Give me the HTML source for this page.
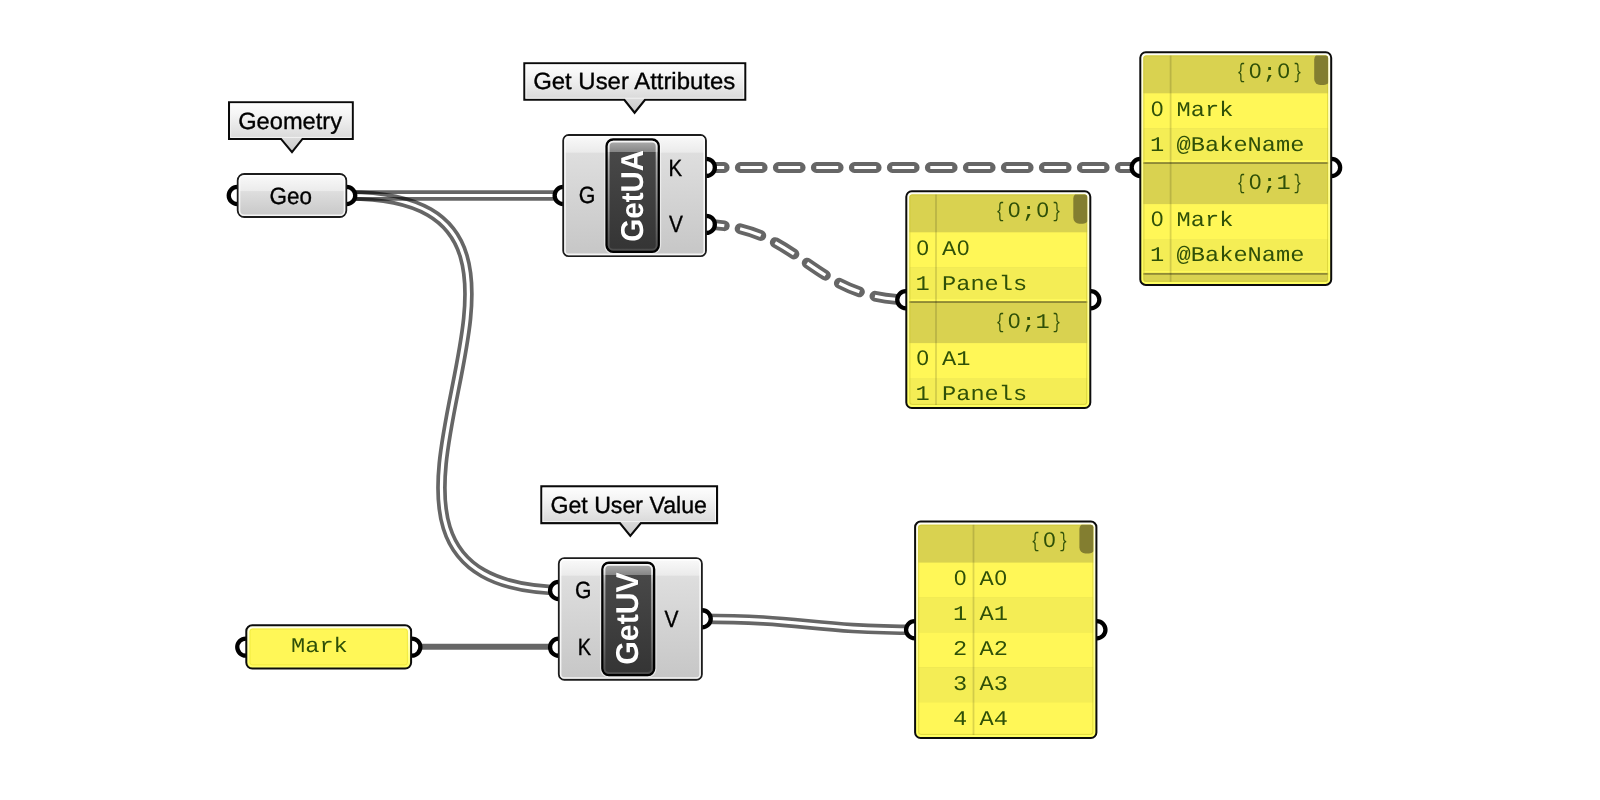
<!DOCTYPE html>
<html><head><meta charset="utf-8"><title>Grasshopper</title>
<style>
html,body{margin:0;padding:0;background:#fff;}
body{width:1600px;height:800px;overflow:hidden;font-family:"Liberation Sans",sans-serif;}
svg{display:block;will-change:transform;}
text{text-rendering:geometricPrecision;}
</style></head><body>
<svg width="1600" height="800" viewBox="0 0 1600 800">
<defs>
<linearGradient id="gLabel" x1="0" y1="0" x2="0" y2="1"><stop offset="0" stop-color="#fefefe"/><stop offset="0.35" stop-color="#f4f4f4"/><stop offset="1" stop-color="#d6d6d6"/></linearGradient>
<linearGradient id="gCapDark" x1="0" y1="0" x2="0" y2="1"><stop offset="0" stop-color="#454545"/><stop offset="1" stop-color="#343434"/></linearGradient>
<linearGradient id="gCapTop" x1="0" y1="0" x2="0" y2="1"><stop offset="0" stop-color="#b4b4b4"/><stop offset="1" stop-color="#858585"/></linearGradient>
<linearGradient id="gCapHi" x1="0" y1="0" x2="0" y2="1"><stop offset="0" stop-color="#ffffff" stop-opacity="0.95"/><stop offset="0.25" stop-color="#ffffff" stop-opacity="0.5"/><stop offset="1" stop-color="#ffffff" stop-opacity="0.12"/></linearGradient>
<mask id="wm1" maskUnits="userSpaceOnUse" x="0" y="0" width="1600" height="800"><path d="M347,195.5 H566" fill="none" stroke="#fff" stroke-width="10.6"/><path d="M347,195.5 H566" fill="none" stroke="#000" stroke-width="3.2"/></mask>
<mask id="wm2" maskUnits="userSpaceOnUse" x="0" y="0" width="1600" height="800"><path d="M348.4,195.5 C642.3,195.5 263.9,590.5 568.6,590.5" fill="none" stroke="#fff" stroke-width="10.6"/><path d="M348.4,195.5 C642.3,195.5 263.9,590.5 568.6,590.5" fill="none" stroke="#000" stroke-width="3.2"/></mask>
<mask id="wm3" maskUnits="userSpaceOnUse" x="0" y="0" width="1600" height="800"><path d="M702.3,167.5 H1145" fill="none" stroke="#fff" stroke-width="10.8" stroke-dasharray="21.9 16.1" stroke-linecap="round"/><path d="M702.3,167.5 H1145" fill="none" stroke="#000" stroke-width="3.2" stroke-dasharray="21.9 16.1"/></mask>
<mask id="wm4" maskUnits="userSpaceOnUse" x="0" y="0" width="1600" height="800"><path d="M702.3,224.4 C801,224.4 810,299.9 911,299.9" fill="none" stroke="#fff" stroke-width="10.8" stroke-dasharray="21.9 16.1" stroke-linecap="round"/><path d="M702.3,224.4 C801,224.4 810,299.9 911,299.9" fill="none" stroke="#000" stroke-width="3.2" stroke-dasharray="21.9 16.1"/></mask>
<mask id="wm5" maskUnits="userSpaceOnUse" x="0" y="0" width="1600" height="800"><path d="M700,618.7 C806,618.7 810,629.8 918,629.8" fill="none" stroke="#fff" stroke-width="10.6"/><path d="M700,618.7 C806,618.7 810,629.8 918,629.8" fill="none" stroke="#000" stroke-width="3.2"/></mask>
<linearGradient id="gb1" gradientUnits="userSpaceOnUse" x1="0" y1="173" x2="0" y2="218"><stop offset="0" stop-color="#fbfbfb"/><stop offset="0.4000" stop-color="#ebebeb"/><stop offset="0.4120" stop-color="#dedede"/><stop offset="1" stop-color="#c6c6c6"/></linearGradient>
<linearGradient id="gl2" gradientUnits="userSpaceOnUse" x1="0" y1="101.2" x2="0" y2="153.5"><stop offset="0" stop-color="#ffffff"/><stop offset="0.25" stop-color="#f5f5f5"/><stop offset="0.75" stop-color="#d7d7d7"/><stop offset="1" stop-color="#c8c8c8"/></linearGradient>
<linearGradient id="gl3" gradientUnits="userSpaceOnUse" x1="0" y1="62.2" x2="0" y2="114"><stop offset="0" stop-color="#ffffff"/><stop offset="0.25" stop-color="#f5f5f5"/><stop offset="0.75" stop-color="#d7d7d7"/><stop offset="1" stop-color="#c8c8c8"/></linearGradient>
<linearGradient id="gl4" gradientUnits="userSpaceOnUse" x1="0" y1="485.3" x2="0" y2="537.2"><stop offset="0" stop-color="#ffffff"/><stop offset="0.25" stop-color="#f5f5f5"/><stop offset="0.75" stop-color="#d7d7d7"/><stop offset="1" stop-color="#c8c8c8"/></linearGradient>
<linearGradient id="gb5" gradientUnits="userSpaceOnUse" x1="0" y1="134" x2="0" y2="257.1"><stop offset="0" stop-color="#fbfbfb"/><stop offset="0.1462" stop-color="#ebebeb"/><stop offset="0.1582" stop-color="#dedede"/><stop offset="1" stop-color="#c6c6c6"/></linearGradient>
<clipPath id="cc605_138"><rect x="607.8" y="140.70000000000002" width="49.7" height="109.89999999999999" rx="5.3"/></clipPath>
<linearGradient id="cg605_138" gradientUnits="userSpaceOnUse" x1="0" y1="152" x2="0" y2="253"><stop offset="0" stop-color="#484848"/><stop offset="1" stop-color="#343434"/></linearGradient>
<linearGradient id="ct605_138" gradientUnits="userSpaceOnUse" x1="0" y1="138.3" x2="0" y2="152"><stop offset="0" stop-color="#b8b8b8"/><stop offset="1" stop-color="#858585"/></linearGradient>
<linearGradient id="ch605_138" gradientUnits="userSpaceOnUse" x1="0" y1="138.3" x2="0" y2="253"><stop offset="0" stop-color="#fff" stop-opacity="0.95"/><stop offset="0.2" stop-color="#fff" stop-opacity="0.55"/><stop offset="1" stop-color="#fff" stop-opacity="0.1"/></linearGradient>
<linearGradient id="gb6" gradientUnits="userSpaceOnUse" x1="0" y1="557.2" x2="0" y2="680.7"><stop offset="0" stop-color="#fbfbfb"/><stop offset="0.1441" stop-color="#ebebeb"/><stop offset="0.1561" stop-color="#dedede"/><stop offset="1" stop-color="#c6c6c6"/></linearGradient>
<clipPath id="cc601_561"><rect x="603.6" y="563.9" width="49.29999999999991" height="109.99999999999996" rx="5.3"/></clipPath>
<linearGradient id="cg601_561" gradientUnits="userSpaceOnUse" x1="0" y1="575" x2="0" y2="676.3"><stop offset="0" stop-color="#484848"/><stop offset="1" stop-color="#343434"/></linearGradient>
<linearGradient id="ct601_561" gradientUnits="userSpaceOnUse" x1="0" y1="561.5" x2="0" y2="575"><stop offset="0" stop-color="#b8b8b8"/><stop offset="1" stop-color="#858585"/></linearGradient>
<linearGradient id="ch601_561" gradientUnits="userSpaceOnUse" x1="0" y1="561.5" x2="0" y2="676.3"><stop offset="0" stop-color="#fff" stop-opacity="0.95"/><stop offset="0.2" stop-color="#fff" stop-opacity="0.55"/><stop offset="1" stop-color="#fff" stop-opacity="0.1"/></linearGradient>
<linearGradient id="markhg" x1="0" y1="0" x2="0" y2="1"><stop offset="0" stop-color="#fffff0"/><stop offset="0.5" stop-color="#ffffa8"/><stop offset="1" stop-color="#ffff60"/></linearGradient>
<clipPath id="pc1139_51"><rect x="1143.3999999999999" y="55.4" width="184.70000000000027" height="226.39999999999995" rx="2.6"/></clipPath>
<linearGradient id="ph1139_51" gradientUnits="userSpaceOnUse" x1="0" y1="51.3" x2="0" y2="261.3"><stop offset="0" stop-color="#fffff6"/><stop offset="0.3" stop-color="#ffffc4"/><stop offset="1" stop-color="#ffff62"/></linearGradient>
<clipPath id="pc905_190"><rect x="909.4" y="194.4" width="177.80000000000007" height="210.49999999999997" rx="2.6"/></clipPath>
<linearGradient id="ph905_190" gradientUnits="userSpaceOnUse" x1="0" y1="190.3" x2="0" y2="400.3"><stop offset="0" stop-color="#fffff6"/><stop offset="0.3" stop-color="#ffffc4"/><stop offset="1" stop-color="#ffff62"/></linearGradient>
<clipPath id="pc914_520"><rect x="918.2" y="524.7" width="175.10000000000014" height="210.19999999999993" rx="2.6"/></clipPath>
<linearGradient id="ph914_520" gradientUnits="userSpaceOnUse" x1="0" y1="520.6" x2="0" y2="730.6"><stop offset="0" stop-color="#fffff6"/><stop offset="0.3" stop-color="#ffffc4"/><stop offset="1" stop-color="#ffff62"/></linearGradient>
</defs>
<rect width="1600" height="800" fill="#fff"/>
<rect x="0" y="0" width="1600" height="800" fill="rgba(0,0,0,0.6)" mask="url(#wm1)"/>
<rect x="0" y="0" width="1600" height="800" fill="rgba(0,0,0,0.6)" mask="url(#wm2)"/>
<rect x="0" y="0" width="1600" height="800" fill="rgba(0,0,0,0.6)" mask="url(#wm3)"/>
<rect x="0" y="0" width="1600" height="800" fill="rgba(0,0,0,0.6)" mask="url(#wm4)"/>
<path d="M412,646.7 H560" fill="none" stroke="rgba(0,0,0,0.6)" stroke-width="6"/>
<rect x="0" y="0" width="1600" height="800" fill="rgba(0,0,0,0.6)" mask="url(#wm5)"/>
<circle cx="237.3" cy="195.5" r="8.55" fill="#fff" stroke="#000" stroke-width="4.3"/>
<circle cx="346.7" cy="195.5" r="8.55" fill="#fff" stroke="#000" stroke-width="4.3"/>
<circle cx="563.2" cy="195.5" r="8.55" fill="#fff" stroke="#000" stroke-width="4.3"/>
<circle cx="706.3" cy="167.4" r="8.55" fill="#fff" stroke="#000" stroke-width="4.3"/>
<circle cx="706.3" cy="224.4" r="8.55" fill="#fff" stroke="#000" stroke-width="4.3"/>
<circle cx="558.6" cy="590.5" r="8.55" fill="#fff" stroke="#000" stroke-width="4.3"/>
<circle cx="558.6" cy="647.2" r="8.55" fill="#fff" stroke="#000" stroke-width="4.3"/>
<circle cx="702.2" cy="618.8" r="8.55" fill="#fff" stroke="#000" stroke-width="4.3"/>
<circle cx="245.8" cy="647.1" r="8.55" fill="#fff" stroke="#000" stroke-width="4.3"/>
<circle cx="411.8" cy="647.1" r="8.55" fill="#fff" stroke="#000" stroke-width="4.3"/>
<circle cx="1140.2" cy="167.5" r="8.55" fill="#fff" stroke="#000" stroke-width="4.3"/>
<circle cx="1331.6" cy="167.5" r="8.55" fill="#fff" stroke="#000" stroke-width="4.3"/>
<circle cx="905.8" cy="299.75" r="8.55" fill="#fff" stroke="#000" stroke-width="4.3"/>
<circle cx="1090.8" cy="299.75" r="8.55" fill="#fff" stroke="#000" stroke-width="4.3"/>
<circle cx="914.6" cy="629.75" r="8.55" fill="#fff" stroke="#000" stroke-width="4.3"/>
<circle cx="1096.9" cy="629.75" r="8.55" fill="#fff" stroke="#000" stroke-width="4.3"/>
<rect x="237.75" y="173.95" width="108.49999999999997" height="43.1" rx="6.5" fill="url(#gb1)" stroke="#1c1c1c" stroke-width="1.9"/>
<rect x="239.50000000000003" y="175.70000000000002" width="104.99999999999999" height="39.6" rx="4.5" fill="none" stroke="#fff" stroke-opacity="0.8" stroke-width="1.6"/>
<text x="269.6" y="203.6" font-family="Liberation Sans, sans-serif" font-size="23.5" font-weight="normal" fill="#000" stroke="#000" stroke-width="0.35" textLength="42.40" lengthAdjust="spacingAndGlyphs">Geo</text>
<path d="M229.05,102.25 H352.75 V138.95 H302.5 L292,152.2 L281,138.95 H229.05 Z" fill="url(#gl2)" stroke="#0a0a0a" stroke-width="2.1" stroke-linejoin="miter"/>
<rect x="230.6" y="103.8" width="120.60000000000001" height="33.599999999999994" fill="none" stroke="#fff" stroke-opacity="0.7" stroke-width="1"/>
<text x="238.2" y="128.8" font-family="Liberation Sans, sans-serif" font-size="23.5" font-weight="normal" fill="#000" stroke="#000" stroke-width="0.35" textLength="103.80" lengthAdjust="spacingAndGlyphs">Geometry</text>
<path d="M524.3499999999999,63.25 H745.25 V99.75 H645 L634.6,112.7 L624.3,99.75 H524.3499999999999 Z" fill="url(#gl3)" stroke="#0a0a0a" stroke-width="2.1" stroke-linejoin="miter"/>
<rect x="525.9" y="64.8" width="217.8" height="33.39999999999999" fill="none" stroke="#fff" stroke-opacity="0.7" stroke-width="1"/>
<text x="533.2" y="89" font-family="Liberation Sans, sans-serif" font-size="23.5" font-weight="normal" fill="#000" stroke="#000" stroke-width="0.35" textLength="202.00" lengthAdjust="spacingAndGlyphs">Get User Attributes</text>
<path d="M541.3499999999999,486.35 H717.0500000000001 V523.1500000000001 H640.9 L630.3,535.9000000000001 L619.9,523.1500000000001 H541.3499999999999 Z" fill="url(#gl4)" stroke="#0a0a0a" stroke-width="2.1" stroke-linejoin="miter"/>
<rect x="542.9" y="487.90000000000003" width="172.60000000000008" height="33.70000000000003" fill="none" stroke="#fff" stroke-opacity="0.7" stroke-width="1"/>
<text x="550.4" y="512.5" font-family="Liberation Sans, sans-serif" font-size="23.5" font-weight="normal" fill="#000" stroke="#000" stroke-width="0.35" textLength="156.60" lengthAdjust="spacingAndGlyphs">Get User Value</text>
<rect x="563.25" y="134.95" width="142.70000000000002" height="121.20000000000002" rx="5.5" fill="url(#gb5)" stroke="#1c1c1c" stroke-width="1.9"/>
<rect x="564.9999999999999" y="136.70000000000002" width="139.20000000000002" height="117.70000000000003" rx="3.5" fill="none" stroke="#fff" stroke-opacity="0.8" stroke-width="1.6"/>
<rect x="604.8" y="137.70000000000002" width="55.7" height="115.89999999999999" rx="8.3" fill="none" stroke="#fff" stroke-opacity="0.55" stroke-width="1.3"/>
<rect x="606.6" y="139.5" width="52.1" height="112.29999999999998" rx="6.5" fill="#3d3d3d" stroke="#000" stroke-width="2.4"/>
<g clip-path="url(#cc605_138)"><rect x="605.4" y="152" width="54.5" height="101" fill="url(#cg605_138)"/><rect x="605.4" y="138.3" width="54.5" height="13.699999999999989" fill="url(#ct605_138)"/></g>
<rect x="608.6999999999999" y="141.60000000000002" width="47.900000000000006" height="108.1" rx="4.5" fill="none" stroke="url(#ch605_138)" stroke-width="1.8"/>
<text transform="translate(643.1,241.7) rotate(-90)" x="0" y="0" font-family="Liberation Sans, sans-serif" font-weight="bold" font-size="31.6" fill="#fff" textLength="91.89999999999998" lengthAdjust="spacingAndGlyphs" stroke="#000" stroke-opacity="0.25" stroke-width="0.6" paint-order="stroke">GetUA</text>
<text x="578.8" y="203.2" font-family="Liberation Sans, sans-serif" font-size="23.5" font-weight="normal" fill="#000" stroke="#000" stroke-width="0.35" textLength="16.60" lengthAdjust="spacingAndGlyphs">G</text>
<text x="668.4" y="175.7" font-family="Liberation Sans, sans-serif" font-size="23.5" font-weight="normal" fill="#000" stroke="#000" stroke-width="0.35" textLength="13.60" lengthAdjust="spacingAndGlyphs">K</text>
<text x="669" y="232" font-family="Liberation Sans, sans-serif" font-size="23.5" font-weight="normal" fill="#000" stroke="#000" stroke-width="0.35" textLength="13.90" lengthAdjust="spacingAndGlyphs">V</text>
<rect x="558.85" y="558.1500000000001" width="142.99999999999997" height="121.6" rx="5.5" fill="url(#gb6)" stroke="#1c1c1c" stroke-width="1.9"/>
<rect x="560.5999999999999" y="559.9" width="139.49999999999997" height="118.10000000000001" rx="3.5" fill="none" stroke="#fff" stroke-opacity="0.8" stroke-width="1.6"/>
<rect x="600.6" y="560.9" width="55.29999999999991" height="115.99999999999996" rx="8.3" fill="none" stroke="#fff" stroke-opacity="0.55" stroke-width="1.3"/>
<rect x="602.4000000000001" y="562.7" width="51.69999999999991" height="112.39999999999995" rx="6.5" fill="#3d3d3d" stroke="#000" stroke-width="2.4"/>
<g clip-path="url(#cc601_561)"><rect x="601.2" y="575" width="54.09999999999991" height="101.29999999999995" fill="url(#cg601_561)"/><rect x="601.2" y="561.5" width="54.09999999999991" height="13.5" fill="url(#ct601_561)"/></g>
<rect x="604.5" y="564.8" width="47.499999999999915" height="108.19999999999996" rx="4.5" fill="none" stroke="url(#ch601_561)" stroke-width="1.8"/>
<text transform="translate(638.4,664.7) rotate(-90)" x="0" y="0" font-family="Liberation Sans, sans-serif" font-weight="bold" font-size="31.6" fill="#fff" textLength="92.5" lengthAdjust="spacingAndGlyphs" stroke="#000" stroke-opacity="0.25" stroke-width="0.6" paint-order="stroke">GetUV</text>
<text x="574.9" y="598.3" font-family="Liberation Sans, sans-serif" font-size="23.5" font-weight="normal" fill="#000" stroke="#000" stroke-width="0.35" textLength="16.40" lengthAdjust="spacingAndGlyphs">G</text>
<text x="577.8" y="655.2" font-family="Liberation Sans, sans-serif" font-size="23.5" font-weight="normal" fill="#000" stroke="#000" stroke-width="0.35" textLength="13.30" lengthAdjust="spacingAndGlyphs">K</text>
<text x="664.4" y="627" font-family="Liberation Sans, sans-serif" font-size="23.5" font-weight="normal" fill="#000" stroke="#000" stroke-width="0.35" textLength="14.00" lengthAdjust="spacingAndGlyphs">V</text>
<rect x="246.3" y="625.3" width="164.8" height="43.30000000000007" rx="6" fill="url(#markhg)" stroke="#0c0c0c" stroke-width="2"/>
<rect x="249.5" y="628.5" width="158.4" height="36.90000000000007" rx="3" fill="#fff757"/>
<rect x="250.0" y="629.0" width="157.4" height="35.90000000000007" rx="2.6" fill="none" stroke="#e6df2a" stroke-opacity="0.5" stroke-width="1"/>
<text transform="translate(298.10,652.30) scale(1.1270,1)" x="0" y="0" text-anchor="middle" font-family="Liberation Mono, monospace" font-size="21" fill="#2f5008">M</text>
<text transform="translate(312.30,652.30) scale(1.1270,1)" x="0" y="0" text-anchor="middle" font-family="Liberation Mono, monospace" font-size="21" fill="#2f5008">a</text>
<text transform="translate(326.50,652.30) scale(1.1270,1)" x="0" y="0" text-anchor="middle" font-family="Liberation Mono, monospace" font-size="21" fill="#2f5008">r</text>
<text transform="translate(340.70,652.30) scale(1.1270,1)" x="0" y="0" text-anchor="middle" font-family="Liberation Mono, monospace" font-size="21" fill="#2f5008">k</text>
<rect x="1140.3" y="52.3" width="190.9000000000001" height="232.59999999999997" rx="5.5" fill="url(#ph1139_51)" stroke="#0c0c0c" stroke-width="2.0"/>
<g clip-path="url(#pc1139_51)"><rect x="1139.3" y="51.3" width="192.9000000000001" height="234.59999999999997" fill="#d9d250"/><rect x="1139.3" y="52.30" width="192.9000000000001" height="41" fill="#d9d250"/><rect x="1139.3" y="93.30" width="192.9000000000001" height="35" fill="#fff757"/><rect x="1139.3" y="128.20" width="192.9000000000001" height="35" fill="#f4ed55"/><rect x="1139.3" y="163.10" width="192.9000000000001" height="41" fill="#d9d250"/><rect x="1139.3" y="204.10" width="192.9000000000001" height="35" fill="#fff757"/><rect x="1139.3" y="239.00" width="192.9000000000001" height="35" fill="#f4ed55"/><rect x="1139.3" y="273.90" width="192.9000000000001" height="12.00" fill="#d9d250"/><rect x="1139.3" y="160.20" width="192.9000000000001" height="2" fill="#fff95c"/><rect x="1139.3" y="162.10" width="192.9000000000001" height="1.9" fill="#8f8a36"/><rect x="1139.3" y="271.00" width="192.9000000000001" height="2" fill="#fff95c"/><rect x="1139.3" y="272.90" width="192.9000000000001" height="1.9" fill="#8f8a36"/><rect x="1143.8999999999999" y="55.9" width="183.70000000000027" height="225.39999999999995" rx="2.4" fill="none" stroke="#c9c22a" stroke-opacity="0.55" stroke-width="1"/><rect x="1169.6999999999998" y="51.3" width="1.8" height="234.59999999999997" fill="#000" fill-opacity="0.14"/><rect x="1314.2" y="53.6" width="15.6" height="31.30" rx="6" fill="#837e30"/></g>
<text transform="translate(1241.10,77.80) scale(0.6800,1)" x="0" y="0" text-anchor="middle" font-family="Liberation Mono, monospace" font-size="21" fill="#2f5008">{</text>
<text transform="translate(1255.30,77.80) scale(1.0600,1)" x="0" y="0" text-anchor="middle" font-family="Liberation Sans, monospace" font-size="21.0" fill="#2f5008">0</text>
<text transform="translate(1269.50,77.80) scale(1.1270,1)" x="0" y="0" text-anchor="middle" font-family="Liberation Mono, monospace" font-size="21" fill="#2f5008">;</text>
<text transform="translate(1283.70,77.80) scale(1.0600,1)" x="0" y="0" text-anchor="middle" font-family="Liberation Sans, monospace" font-size="21.0" fill="#2f5008">0</text>
<text transform="translate(1297.90,77.80) scale(0.6800,1)" x="0" y="0" text-anchor="middle" font-family="Liberation Mono, monospace" font-size="21" fill="#2f5008">}</text>
<text transform="translate(1157.20,115.65) scale(1.0600,1)" x="0" y="0" text-anchor="middle" font-family="Liberation Sans, monospace" font-size="21.0" fill="#2f5008">0</text>
<text transform="translate(1183.70,115.65) scale(1.1270,1)" x="0" y="0" text-anchor="middle" font-family="Liberation Mono, monospace" font-size="21" fill="#2f5008">M</text>
<text transform="translate(1197.90,115.65) scale(1.1270,1)" x="0" y="0" text-anchor="middle" font-family="Liberation Mono, monospace" font-size="21" fill="#2f5008">a</text>
<text transform="translate(1212.10,115.65) scale(1.1270,1)" x="0" y="0" text-anchor="middle" font-family="Liberation Mono, monospace" font-size="21" fill="#2f5008">r</text>
<text transform="translate(1226.30,115.65) scale(1.1270,1)" x="0" y="0" text-anchor="middle" font-family="Liberation Mono, monospace" font-size="21" fill="#2f5008">k</text>
<text transform="translate(1157.20,150.55) scale(1.1270,1)" x="0" y="0" text-anchor="middle" font-family="Liberation Mono, monospace" font-size="21" fill="#2f5008">1</text>
<text transform="translate(1183.70,150.55) scale(1.1270,1)" x="0" y="0" text-anchor="middle" font-family="Liberation Mono, monospace" font-size="21" fill="#2f5008">@</text>
<text transform="translate(1197.90,150.55) scale(1.1270,1)" x="0" y="0" text-anchor="middle" font-family="Liberation Mono, monospace" font-size="21" fill="#2f5008">B</text>
<text transform="translate(1212.10,150.55) scale(1.1270,1)" x="0" y="0" text-anchor="middle" font-family="Liberation Mono, monospace" font-size="21" fill="#2f5008">a</text>
<text transform="translate(1226.30,150.55) scale(1.1270,1)" x="0" y="0" text-anchor="middle" font-family="Liberation Mono, monospace" font-size="21" fill="#2f5008">k</text>
<text transform="translate(1240.50,150.55) scale(1.1270,1)" x="0" y="0" text-anchor="middle" font-family="Liberation Mono, monospace" font-size="21" fill="#2f5008">e</text>
<text transform="translate(1254.70,150.55) scale(1.1270,1)" x="0" y="0" text-anchor="middle" font-family="Liberation Mono, monospace" font-size="21" fill="#2f5008">N</text>
<text transform="translate(1268.90,150.55) scale(1.1270,1)" x="0" y="0" text-anchor="middle" font-family="Liberation Mono, monospace" font-size="21" fill="#2f5008">a</text>
<text transform="translate(1283.10,150.55) scale(1.1270,1)" x="0" y="0" text-anchor="middle" font-family="Liberation Mono, monospace" font-size="21" fill="#2f5008">m</text>
<text transform="translate(1297.30,150.55) scale(1.1270,1)" x="0" y="0" text-anchor="middle" font-family="Liberation Mono, monospace" font-size="21" fill="#2f5008">e</text>
<text transform="translate(1241.10,188.60) scale(0.6800,1)" x="0" y="0" text-anchor="middle" font-family="Liberation Mono, monospace" font-size="21" fill="#2f5008">{</text>
<text transform="translate(1255.30,188.60) scale(1.0600,1)" x="0" y="0" text-anchor="middle" font-family="Liberation Sans, monospace" font-size="21.0" fill="#2f5008">0</text>
<text transform="translate(1269.50,188.60) scale(1.1270,1)" x="0" y="0" text-anchor="middle" font-family="Liberation Mono, monospace" font-size="21" fill="#2f5008">;</text>
<text transform="translate(1283.70,188.60) scale(1.1270,1)" x="0" y="0" text-anchor="middle" font-family="Liberation Mono, monospace" font-size="21" fill="#2f5008">1</text>
<text transform="translate(1297.90,188.60) scale(0.6800,1)" x="0" y="0" text-anchor="middle" font-family="Liberation Mono, monospace" font-size="21" fill="#2f5008">}</text>
<text transform="translate(1157.20,226.45) scale(1.0600,1)" x="0" y="0" text-anchor="middle" font-family="Liberation Sans, monospace" font-size="21.0" fill="#2f5008">0</text>
<text transform="translate(1183.70,226.45) scale(1.1270,1)" x="0" y="0" text-anchor="middle" font-family="Liberation Mono, monospace" font-size="21" fill="#2f5008">M</text>
<text transform="translate(1197.90,226.45) scale(1.1270,1)" x="0" y="0" text-anchor="middle" font-family="Liberation Mono, monospace" font-size="21" fill="#2f5008">a</text>
<text transform="translate(1212.10,226.45) scale(1.1270,1)" x="0" y="0" text-anchor="middle" font-family="Liberation Mono, monospace" font-size="21" fill="#2f5008">r</text>
<text transform="translate(1226.30,226.45) scale(1.1270,1)" x="0" y="0" text-anchor="middle" font-family="Liberation Mono, monospace" font-size="21" fill="#2f5008">k</text>
<text transform="translate(1157.20,261.35) scale(1.1270,1)" x="0" y="0" text-anchor="middle" font-family="Liberation Mono, monospace" font-size="21" fill="#2f5008">1</text>
<text transform="translate(1183.70,261.35) scale(1.1270,1)" x="0" y="0" text-anchor="middle" font-family="Liberation Mono, monospace" font-size="21" fill="#2f5008">@</text>
<text transform="translate(1197.90,261.35) scale(1.1270,1)" x="0" y="0" text-anchor="middle" font-family="Liberation Mono, monospace" font-size="21" fill="#2f5008">B</text>
<text transform="translate(1212.10,261.35) scale(1.1270,1)" x="0" y="0" text-anchor="middle" font-family="Liberation Mono, monospace" font-size="21" fill="#2f5008">a</text>
<text transform="translate(1226.30,261.35) scale(1.1270,1)" x="0" y="0" text-anchor="middle" font-family="Liberation Mono, monospace" font-size="21" fill="#2f5008">k</text>
<text transform="translate(1240.50,261.35) scale(1.1270,1)" x="0" y="0" text-anchor="middle" font-family="Liberation Mono, monospace" font-size="21" fill="#2f5008">e</text>
<text transform="translate(1254.70,261.35) scale(1.1270,1)" x="0" y="0" text-anchor="middle" font-family="Liberation Mono, monospace" font-size="21" fill="#2f5008">N</text>
<text transform="translate(1268.90,261.35) scale(1.1270,1)" x="0" y="0" text-anchor="middle" font-family="Liberation Mono, monospace" font-size="21" fill="#2f5008">a</text>
<text transform="translate(1283.10,261.35) scale(1.1270,1)" x="0" y="0" text-anchor="middle" font-family="Liberation Mono, monospace" font-size="21" fill="#2f5008">m</text>
<text transform="translate(1297.30,261.35) scale(1.1270,1)" x="0" y="0" text-anchor="middle" font-family="Liberation Mono, monospace" font-size="21" fill="#2f5008">e</text>
<rect x="906.3" y="191.3" width="184.0" height="216.7" rx="5.5" fill="url(#ph905_190)" stroke="#0c0c0c" stroke-width="2.0"/>
<g clip-path="url(#pc905_190)"><rect x="905.3" y="190.3" width="186.0" height="218.7" fill="#d9d250"/><rect x="905.3" y="191.30" width="186.0" height="41" fill="#d9d250"/><rect x="905.3" y="232.30" width="186.0" height="35" fill="#fff757"/><rect x="905.3" y="267.20" width="186.0" height="35" fill="#f4ed55"/><rect x="905.3" y="302.10" width="186.0" height="41" fill="#d9d250"/><rect x="905.3" y="343.10" width="186.0" height="35" fill="#fff757"/><rect x="905.3" y="378.00" width="186.0" height="35" fill="#f4ed55"/><rect x="905.3" y="299.20" width="186.0" height="2" fill="#fff95c"/><rect x="905.3" y="301.10" width="186.0" height="1.9" fill="#8f8a36"/><rect x="909.9" y="194.9" width="176.80000000000007" height="209.49999999999997" rx="2.4" fill="none" stroke="#c9c22a" stroke-opacity="0.55" stroke-width="1"/><rect x="935.1" y="190.3" width="1.8" height="218.7" fill="#000" fill-opacity="0.14"/><rect x="1073.3" y="192.6" width="15.6" height="31.10" rx="6" fill="#837e30"/></g>
<text transform="translate(1000.10,216.80) scale(0.6800,1)" x="0" y="0" text-anchor="middle" font-family="Liberation Mono, monospace" font-size="21" fill="#2f5008">{</text>
<text transform="translate(1014.30,216.80) scale(1.0600,1)" x="0" y="0" text-anchor="middle" font-family="Liberation Sans, monospace" font-size="21.0" fill="#2f5008">0</text>
<text transform="translate(1028.50,216.80) scale(1.1270,1)" x="0" y="0" text-anchor="middle" font-family="Liberation Mono, monospace" font-size="21" fill="#2f5008">;</text>
<text transform="translate(1042.70,216.80) scale(1.0600,1)" x="0" y="0" text-anchor="middle" font-family="Liberation Sans, monospace" font-size="21.0" fill="#2f5008">0</text>
<text transform="translate(1056.90,216.80) scale(0.6800,1)" x="0" y="0" text-anchor="middle" font-family="Liberation Mono, monospace" font-size="21" fill="#2f5008">}</text>
<text transform="translate(922.60,254.65) scale(1.0600,1)" x="0" y="0" text-anchor="middle" font-family="Liberation Sans, monospace" font-size="21.0" fill="#2f5008">0</text>
<text transform="translate(949.10,254.65) scale(1.1270,1)" x="0" y="0" text-anchor="middle" font-family="Liberation Mono, monospace" font-size="21" fill="#2f5008">A</text>
<text transform="translate(963.30,254.65) scale(1.0600,1)" x="0" y="0" text-anchor="middle" font-family="Liberation Sans, monospace" font-size="21.0" fill="#2f5008">0</text>
<text transform="translate(922.60,289.55) scale(1.1270,1)" x="0" y="0" text-anchor="middle" font-family="Liberation Mono, monospace" font-size="21" fill="#2f5008">1</text>
<text transform="translate(949.10,289.55) scale(1.1270,1)" x="0" y="0" text-anchor="middle" font-family="Liberation Mono, monospace" font-size="21" fill="#2f5008">P</text>
<text transform="translate(963.30,289.55) scale(1.1270,1)" x="0" y="0" text-anchor="middle" font-family="Liberation Mono, monospace" font-size="21" fill="#2f5008">a</text>
<text transform="translate(977.50,289.55) scale(1.1270,1)" x="0" y="0" text-anchor="middle" font-family="Liberation Mono, monospace" font-size="21" fill="#2f5008">n</text>
<text transform="translate(991.70,289.55) scale(1.1270,1)" x="0" y="0" text-anchor="middle" font-family="Liberation Mono, monospace" font-size="21" fill="#2f5008">e</text>
<text transform="translate(1005.90,289.55) scale(1.1270,1)" x="0" y="0" text-anchor="middle" font-family="Liberation Mono, monospace" font-size="21" fill="#2f5008">l</text>
<text transform="translate(1020.10,289.55) scale(1.1270,1)" x="0" y="0" text-anchor="middle" font-family="Liberation Mono, monospace" font-size="21" fill="#2f5008">s</text>
<text transform="translate(1000.10,327.60) scale(0.6800,1)" x="0" y="0" text-anchor="middle" font-family="Liberation Mono, monospace" font-size="21" fill="#2f5008">{</text>
<text transform="translate(1014.30,327.60) scale(1.0600,1)" x="0" y="0" text-anchor="middle" font-family="Liberation Sans, monospace" font-size="21.0" fill="#2f5008">0</text>
<text transform="translate(1028.50,327.60) scale(1.1270,1)" x="0" y="0" text-anchor="middle" font-family="Liberation Mono, monospace" font-size="21" fill="#2f5008">;</text>
<text transform="translate(1042.70,327.60) scale(1.1270,1)" x="0" y="0" text-anchor="middle" font-family="Liberation Mono, monospace" font-size="21" fill="#2f5008">1</text>
<text transform="translate(1056.90,327.60) scale(0.6800,1)" x="0" y="0" text-anchor="middle" font-family="Liberation Mono, monospace" font-size="21" fill="#2f5008">}</text>
<text transform="translate(922.60,365.45) scale(1.0600,1)" x="0" y="0" text-anchor="middle" font-family="Liberation Sans, monospace" font-size="21.0" fill="#2f5008">0</text>
<text transform="translate(949.10,365.45) scale(1.1270,1)" x="0" y="0" text-anchor="middle" font-family="Liberation Mono, monospace" font-size="21" fill="#2f5008">A</text>
<text transform="translate(963.30,365.45) scale(1.1270,1)" x="0" y="0" text-anchor="middle" font-family="Liberation Mono, monospace" font-size="21" fill="#2f5008">1</text>
<text transform="translate(922.60,400.35) scale(1.1270,1)" x="0" y="0" text-anchor="middle" font-family="Liberation Mono, monospace" font-size="21" fill="#2f5008">1</text>
<text transform="translate(949.10,400.35) scale(1.1270,1)" x="0" y="0" text-anchor="middle" font-family="Liberation Mono, monospace" font-size="21" fill="#2f5008">P</text>
<text transform="translate(963.30,400.35) scale(1.1270,1)" x="0" y="0" text-anchor="middle" font-family="Liberation Mono, monospace" font-size="21" fill="#2f5008">a</text>
<text transform="translate(977.50,400.35) scale(1.1270,1)" x="0" y="0" text-anchor="middle" font-family="Liberation Mono, monospace" font-size="21" fill="#2f5008">n</text>
<text transform="translate(991.70,400.35) scale(1.1270,1)" x="0" y="0" text-anchor="middle" font-family="Liberation Mono, monospace" font-size="21" fill="#2f5008">e</text>
<text transform="translate(1005.90,400.35) scale(1.1270,1)" x="0" y="0" text-anchor="middle" font-family="Liberation Mono, monospace" font-size="21" fill="#2f5008">l</text>
<text transform="translate(1020.10,400.35) scale(1.1270,1)" x="0" y="0" text-anchor="middle" font-family="Liberation Mono, monospace" font-size="21" fill="#2f5008">s</text>
<rect x="915.1" y="521.6" width="181.30000000000007" height="216.39999999999998" rx="5.5" fill="url(#ph914_520)" stroke="#0c0c0c" stroke-width="2.0"/>
<g clip-path="url(#pc914_520)"><rect x="914.1" y="520.6" width="183.30000000000007" height="218.39999999999998" fill="#d9d250"/><rect x="914.1" y="521.60" width="183.30000000000007" height="41" fill="#d9d250"/><rect x="914.1" y="562.60" width="183.30000000000007" height="35" fill="#fff757"/><rect x="914.1" y="597.50" width="183.30000000000007" height="35" fill="#f4ed55"/><rect x="914.1" y="632.40" width="183.30000000000007" height="35" fill="#fff757"/><rect x="914.1" y="667.30" width="183.30000000000007" height="35" fill="#f4ed55"/><rect x="914.1" y="702.20" width="183.30000000000007" height="35" fill="#fff757"/><rect x="914.1" y="737.10" width="183.30000000000007" height="1.90" fill="#d9d250"/><rect x="914.1" y="734.20" width="183.30000000000007" height="2" fill="#fff95c"/><rect x="914.1" y="736.10" width="183.30000000000007" height="1.9" fill="#8f8a36"/><rect x="918.7" y="525.2" width="174.10000000000014" height="209.19999999999993" rx="2.4" fill="none" stroke="#c9c22a" stroke-opacity="0.55" stroke-width="1"/><rect x="972.6" y="520.6" width="1.8" height="218.39999999999998" fill="#000" fill-opacity="0.14"/><rect x="1079.4" y="522.9000000000001" width="15.6" height="30.70" rx="6" fill="#837e30"/></g>
<text transform="translate(1035.20,547.10) scale(0.6800,1)" x="0" y="0" text-anchor="middle" font-family="Liberation Mono, monospace" font-size="21" fill="#2f5008">{</text>
<text transform="translate(1049.40,547.10) scale(1.0600,1)" x="0" y="0" text-anchor="middle" font-family="Liberation Sans, monospace" font-size="21.0" fill="#2f5008">0</text>
<text transform="translate(1063.60,547.10) scale(0.6800,1)" x="0" y="0" text-anchor="middle" font-family="Liberation Mono, monospace" font-size="21" fill="#2f5008">}</text>
<text transform="translate(960.10,584.95) scale(1.0600,1)" x="0" y="0" text-anchor="middle" font-family="Liberation Sans, monospace" font-size="21.0" fill="#2f5008">0</text>
<text transform="translate(986.60,584.95) scale(1.1270,1)" x="0" y="0" text-anchor="middle" font-family="Liberation Mono, monospace" font-size="21" fill="#2f5008">A</text>
<text transform="translate(1000.80,584.95) scale(1.0600,1)" x="0" y="0" text-anchor="middle" font-family="Liberation Sans, monospace" font-size="21.0" fill="#2f5008">0</text>
<text transform="translate(960.10,619.85) scale(1.1270,1)" x="0" y="0" text-anchor="middle" font-family="Liberation Mono, monospace" font-size="21" fill="#2f5008">1</text>
<text transform="translate(986.60,619.85) scale(1.1270,1)" x="0" y="0" text-anchor="middle" font-family="Liberation Mono, monospace" font-size="21" fill="#2f5008">A</text>
<text transform="translate(1000.80,619.85) scale(1.1270,1)" x="0" y="0" text-anchor="middle" font-family="Liberation Mono, monospace" font-size="21" fill="#2f5008">1</text>
<text transform="translate(960.10,654.75) scale(1.1270,1)" x="0" y="0" text-anchor="middle" font-family="Liberation Mono, monospace" font-size="21" fill="#2f5008">2</text>
<text transform="translate(986.60,654.75) scale(1.1270,1)" x="0" y="0" text-anchor="middle" font-family="Liberation Mono, monospace" font-size="21" fill="#2f5008">A</text>
<text transform="translate(1000.80,654.75) scale(1.1270,1)" x="0" y="0" text-anchor="middle" font-family="Liberation Mono, monospace" font-size="21" fill="#2f5008">2</text>
<text transform="translate(960.10,689.65) scale(1.1270,1)" x="0" y="0" text-anchor="middle" font-family="Liberation Mono, monospace" font-size="21" fill="#2f5008">3</text>
<text transform="translate(986.60,689.65) scale(1.1270,1)" x="0" y="0" text-anchor="middle" font-family="Liberation Mono, monospace" font-size="21" fill="#2f5008">A</text>
<text transform="translate(1000.80,689.65) scale(1.1270,1)" x="0" y="0" text-anchor="middle" font-family="Liberation Mono, monospace" font-size="21" fill="#2f5008">3</text>
<text transform="translate(960.10,724.55) scale(1.1270,1)" x="0" y="0" text-anchor="middle" font-family="Liberation Mono, monospace" font-size="21" fill="#2f5008">4</text>
<text transform="translate(986.60,724.55) scale(1.1270,1)" x="0" y="0" text-anchor="middle" font-family="Liberation Mono, monospace" font-size="21" fill="#2f5008">A</text>
<text transform="translate(1000.80,724.55) scale(1.1270,1)" x="0" y="0" text-anchor="middle" font-family="Liberation Mono, monospace" font-size="21" fill="#2f5008">4</text>
</svg>
</body></html>
